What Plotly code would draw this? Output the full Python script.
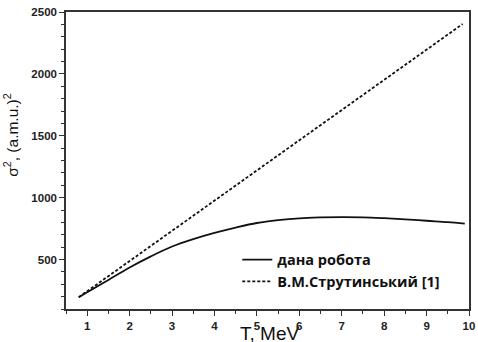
import plotly.graph_objects as go

# Solid curve: "дана робота"
T_solid = [0.8, 1.0, 1.5, 2.0, 2.5, 3.0, 3.5, 4.0, 4.5, 5.0, 5.5, 6.0, 6.5, 7.0, 7.5, 8.0, 8.5, 9.0, 9.5, 9.9]
S_solid = [195, 235, 335, 435, 525, 605, 665, 715, 758, 795, 818, 833, 840, 843, 841, 834, 825, 813, 802, 790]

# Dashed line: "В.М.Струтинський [1]"
T_dash = [0.8, 9.85]
S_dash = [195, 2403]

x_ticks = [1, 2, 3, 4, 5, 6, 7, 8, 9, 10]
y_ticks = [500, 1000, 1500, 2000, 2500]

fig = go.Figure()
fig.add_trace(go.Scatter(x=T_solid, y=S_solid, mode="lines", name="дана робота",
                         line=dict(color="#111111", width=1.8, shape="spline")))
fig.add_trace(go.Scatter(x=T_dash, y=S_dash, mode="lines", name="В.М.Струтинський [1]",
                         line=dict(color="#111111", width=1.8, dash="3px,2px")))

axis_common = dict(
    showgrid=False, zeroline=False, showline=True, linecolor="#333333", linewidth=1.5,
    mirror=True, ticks="outside", ticklen=5, tickwidth=1.2, tickcolor="#333333",
    ticklabeloverflow="allow",
    tickfont=dict(family="Liberation Sans, Arial", size=11.5, color="#222222", weight="bold"),
)

fig.update_layout(
    width=478, height=342,
    margin=dict(l=66, r=3, t=12, b=33),
    paper_bgcolor="white", plot_bgcolor="white",
    showlegend=True,
    legend=dict(x=0.425, y=0.22, xanchor="left", yanchor="top",
                bgcolor="rgba(0,0,0,0)", borderwidth=0, tracegroupgap=0,
                font=dict(family="Open Sans, Noto Sans", size=14.5, color="#111111", weight="bold")),
    xaxis=dict(range=[0.5, 10], tickvals=x_ticks, ticktext=[str(v) for v in x_ticks],
               minor=dict(ticks="outside", ticklen=3, tickcolor="#333333", dtick=0.5, tick0=0),
               **axis_common),
    yaxis=dict(range=[100, 2500], tickvals=y_ticks, ticktext=[str(v) for v in y_ticks],
               minor=dict(ticks="outside", ticklen=3, tickcolor="#333333", dtick=100, tick0=0),
               **axis_common),
)

fig.add_annotation(text="σ<sup>2</sup>, (a.m.u.)<sup>2</sup>", xref="paper", yref="paper",
                   x=-0.135, y=0.585, textangle=-90, showarrow=False,
                   xanchor="center", yanchor="middle",
                   font=dict(family="Liberation Sans, Arial", size=15.5, color="#111111"))
fig.add_annotation(text="T, MeV", xref="paper", yref="paper",
                   x=0.505, y=-0.084, showarrow=False, xanchor="center", yanchor="middle",
                   font=dict(family="Liberation Sans, Arial", size=19, color="#111111"))

fig.write_html("out.html")
